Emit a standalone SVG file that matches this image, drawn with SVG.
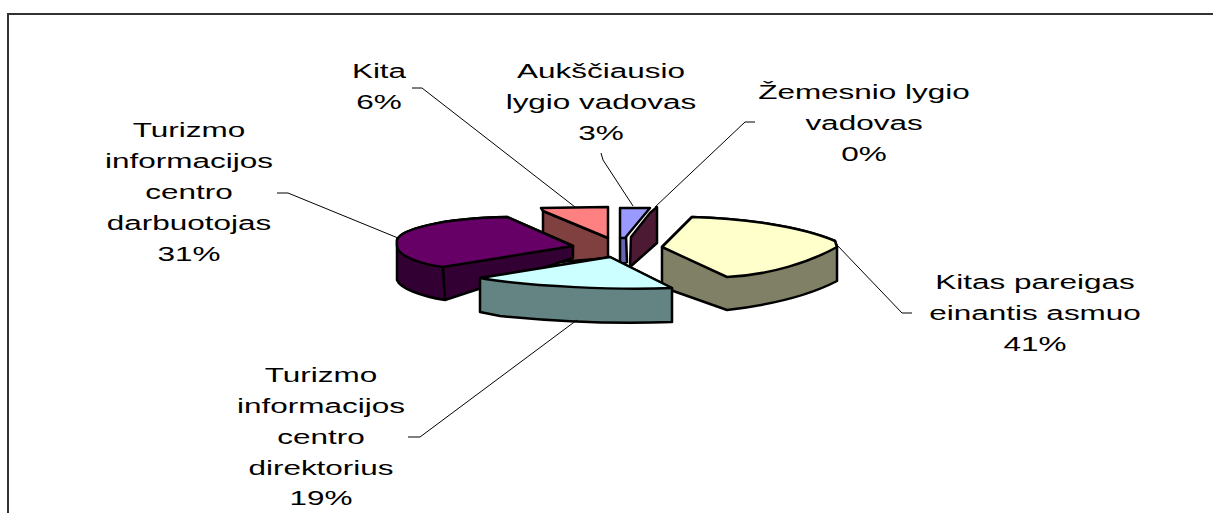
<svg xmlns="http://www.w3.org/2000/svg" width="1213" height="513" viewBox="0 0 1213 513">
<style>
.lbl{font-family:"Liberation Sans",Arial,sans-serif;font-size:21px;fill:#000;text-anchor:middle}
.pie{stroke:#000;stroke-width:2.5;stroke-linejoin:round}
.lead{fill:none;stroke:#000;stroke-width:1}
</style>
<rect width="1213" height="513" fill="#fff"/>
<path d="M8,513 L8,14 L1213,14" fill="none" stroke="#333" stroke-width="2"/>
<g id="slice-kita">
<path class="pie" d="M543,211 L608,238 L608,258 L560,262 L543,255 Z" fill="#804040"/>
<path class="pie" d="M541,208 L608,207 L608,238 L543,211 Z" fill="#FF8080"/>
</g>
<g id="slice-aukščiausio">
<path class="pie" d="M620,238 L626,235 L627,262 L620,265 Z" fill="#6666B0"/>
<path class="pie" d="M620,208 L650,208 L625,238 L620,238 Z" fill="#9999FF"/>
</g>
<g id="slice-žemesnio">
<path class="pie" d="M631,237 L650,213 L657,207 L657,243 L630,267 Z" fill="#4D1A33"/>
</g>
<g id="slice-kitas">
<path class="pie" d="M662,247 L692,217 C740,218 800,226 835,241 L837,247 L837,281 C810,295 770,305 727,310 L662,287 Z" fill="#808066"/>
<path class="pie" d="M662,247 L692,217 C740,218 800,226 835,241 L837,247 C810,262 770,275 727,277 Z" fill="#FFFFCC"/>
</g>
<g id="slice-darbuotojas">
<path class="pie" d="M397,240 C400,230 440,218 507,217 L573,246 L573,258 L445,300 C420,296 400,288 397,280 Z" fill="#330033"/>
<path class="pie" d="M397,240 C400,230 440,218 507,217 L573,246 L443,267 C420,264 398,256 397,246 Z" fill="#660066"/>
<path class="pie" d="M443,267 L445,300" fill="none"/>
</g>
<g id="slice-direktorius">
<path class="pie" d="M480,278 L610,257 L672,288 L672,322 C620,324 560,322 500,316 L480,312 Z" fill="#648484"/>
<path class="pie" d="M480,278 L610,257 L672,288 C620,290 530,287 480,278 Z" fill="#CCFFFF"/>
</g>
<g id="connectors">
<path class="lead" d="M412,88 L422,88 L575,207"/>
<path class="lead" d="M601,153 L603,160 L633,206"/>
<path class="lead" d="M755,122 L745,122 L655,207"/>
<path class="lead" d="M277,193 L288,193 L398,238"/>
<path class="lead" d="M408,437 L420,437 L577,320"/>
<path class="lead" d="M837,245 L902,313 L912,313"/>
</g>
<g id="label-kita"><text class="lbl" transform="translate(379,0) scale(1.5,1)"><tspan x="0" y="78">Kita</tspan><tspan x="0" y="109">6%</tspan></text></g>
<g id="label-aukščiausio"><text class="lbl" transform="translate(601,0) scale(1.5,1)"><tspan x="0" y="78">Aukščiausio</tspan><tspan x="0" y="109">lygio vadovas</tspan><tspan x="0" y="140">3%</tspan></text></g>
<g id="label-žemesnio"><text class="lbl" transform="translate(864,0) scale(1.5,1)"><tspan x="0" y="99">Žemesnio lygio</tspan><tspan x="0" y="130">vadovas</tspan><tspan x="0" y="161">0%</tspan></text></g>
<g id="label-darbuotojas"><text class="lbl" transform="translate(189,0) scale(1.5,1)"><tspan x="0" y="137">Turizmo</tspan><tspan x="0" y="168">informacijos</tspan><tspan x="0" y="199">centro</tspan><tspan x="0" y="230">darbuotojas</tspan><tspan x="0" y="261">31%</tspan></text></g>
<g id="label-kitas"><text class="lbl" transform="translate(1035,0) scale(1.5,1)"><tspan x="0" y="289">Kitas pareigas</tspan><tspan x="0" y="320">einantis asmuo</tspan><tspan x="0" y="351">41%</tspan></text></g>
<g id="label-direktorius"><text class="lbl" transform="translate(321,0) scale(1.5,1)"><tspan x="0" y="382">Turizmo</tspan><tspan x="0" y="413">informacijos</tspan><tspan x="0" y="444">centro</tspan><tspan x="0" y="475">direktorius</tspan><tspan x="0" y="505">19%</tspan></text></g>
</svg>
